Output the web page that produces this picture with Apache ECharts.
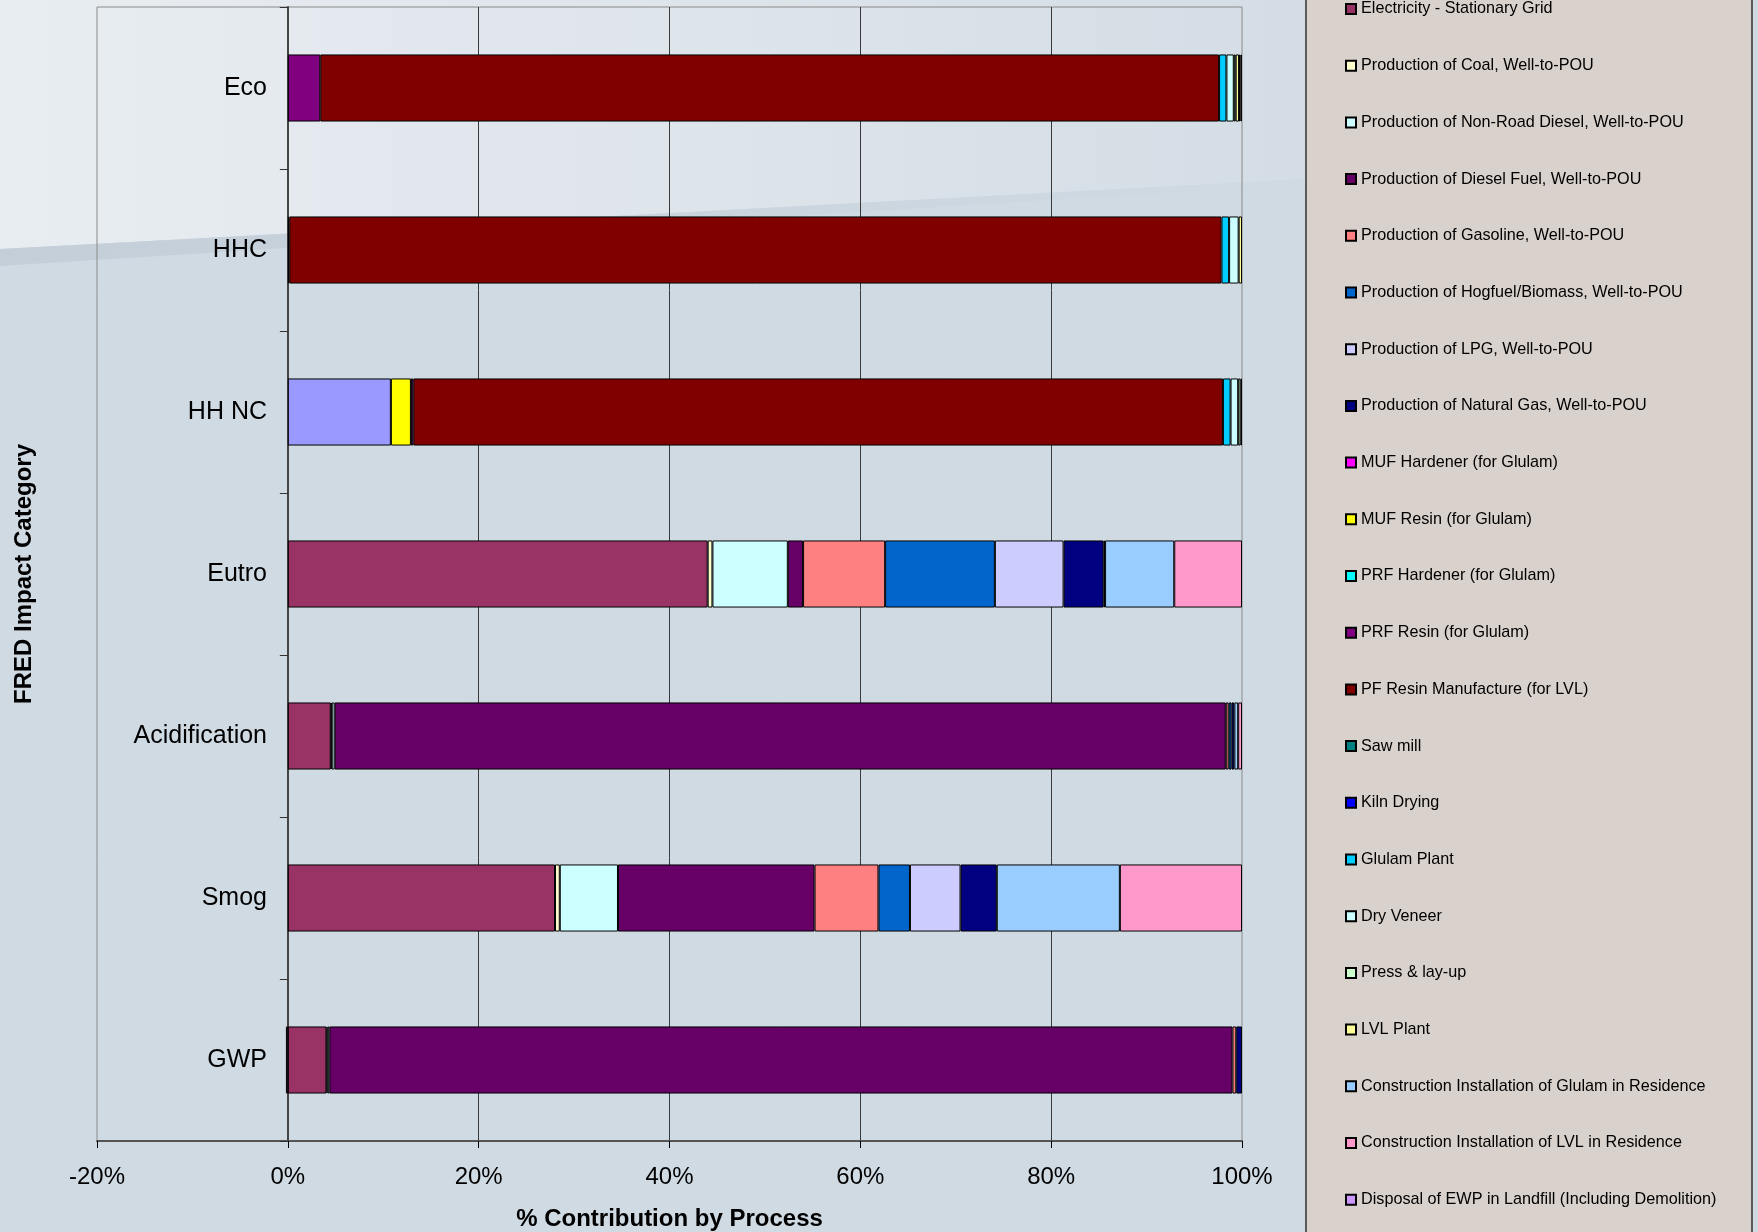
<!DOCTYPE html>
<html>
<head>
<meta charset="utf-8">
<script src="https://cdn.jsdelivr.net/npm/echarts@6/dist/echarts.min.js"></script>
<style>
  html, body { margin: 0; padding: 0; background: #D0DAE3; }
  #chart { width: 1758px; height: 1232px; }
</style>
</head>
<body>
<div id="chart"></div>
<script>
// ---------------- DATA ----------------
const categories = ['Eco', 'HHC', 'HH NC', 'Eutro', 'Acidification', 'Smog', 'GWP'];

const xTickLabels = ['-20%', '0%', '20%', '40%', '60%', '80%', '100%'];

// series order (stacking order, left to right); first series' legend entry is cut off in the source
const seriesNames = [
  'Series 1',
  'Electricity - Stationary Grid',
  'Production of Coal, Well-to-POU',
  'Production of Non-Road Diesel, Well-to-POU',
  'Production of Diesel Fuel, Well-to-POU',
  'Production of Gasoline, Well-to-POU',
  'Production of Hogfuel/Biomass, Well-to-POU',
  'Production of LPG, Well-to-POU',
  'Production of Natural Gas, Well-to-POU',
  'MUF Hardener (for Glulam)',
  'MUF Resin (for Glulam)',
  'PRF Hardener (for Glulam)',
  'PRF Resin (for Glulam)',
  'PF Resin Manufacture (for LVL)',
  'Saw mill',
  'Kiln Drying',
  'Glulam Plant',
  'Dry Veneer',
  'Press & lay-up',
  'LVL Plant',
  'Construction Installation of Glulam in Residence',
  'Construction Installation of LVL in Residence',
  'Disposal of EWP in Landfill (Including Demolition)'
];

const seriesColors = [
  '#9999FF', '#993366', '#FFFFCC', '#CCFFFF', '#660066', '#FF8080', '#0066CC', '#CCCCFF',
  '#000080', '#FF00FF', '#FFFF00', '#00FFFF', '#800080', '#800000', '#008080', '#0000FF',
  '#00CCFF', '#CCFFFF', '#CCFFCC', '#FFFF99', '#99CCFF', '#FF99CC', '#CC99FF'
];

// % contribution, per category: Eco, HHC, HH NC, Eutro, Acidification, Smog, GWP
const series1        = [0,    0,    10.8,  0,    0,    0,    0];
const electricity    = [0,    0,    0,     44.0, 4.5,  28.0, 4.05];
const coal           = [0,    0,    0,     0.5,  0.1,  0.5,  0.1];
const nonRoadDiesel  = [0,    0,    0,     7.9,  0.3,  6.1,  0.2];
const dieselFuel     = [0,    0,    0,     1.6,  93.4, 20.6, 94.65];
const gasoline       = [0,    0,    0,     8.6,  0.3,  6.7,  0.4];
const hogfuel        = [0,    0,    0,     11.5, 0.3,  3.3,  0];
const lpg            = [0,    0,    0,     7.2,  0,    5.3,  0];
const naturalGas     = [0,    0,    0,     4.2,  0.3,  3.8,  0.6];
const mufHardener    = [0,    0,    0,     0,    0,    0,    0];
const mufResin       = [0,    0,    2.1,   0,    0,    0,    0];
const prfHardener    = [0,    0,    0,     0,    0,    0,    0];
const prfResin       = [3.4,  0.15, 0.25,  0,    0,    0,    0];
const pfResin        = [94.2, 97.7, 84.85, 0,    0,    0,    0];
const sawMill        = [0,    0,    0,     0.15, 0,    0,    0];
const kilnDrying     = [0,    0,    0,     0,    0,    0,    0];
const glulamPlant    = [0.77, 0.8,  0.8,   0,    0,    0,    0];
const dryVeneer      = [0.77, 1.0,  0.8,   0,    0,    0,    0];
const pressLayup     = [0.2,  0,    0.25,  0,    0,    0,    0];
const lvlPlant       = [0.35, 0.35, 0.15,  0,    0,    0,    0];
const constrGlulam   = [0.15, 0,    0,     7.25, 0.4,  12.9, 0];
const constrLVL      = [0.15, 0,    0,     7.1,  0.4,  12.8, 0];
const disposal       = [0,    0,    0,     0,    0,    0,    -0.2];

const seriesValues = [
  series1, electricity, coal, nonRoadDiesel, dieselFuel, gasoline, hogfuel, lpg, naturalGas,
  mufHardener, mufResin, prfHardener, prfResin, pfResin, sawMill, kilnDrying, glulamPlant,
  dryVeneer, pressLayup, lvlPlant, constrGlulam, constrLVL, disposal
];

// ---------------- CHART ----------------
const FONT = "'Liberation Sans', Arial, sans-serif";
const chart = echarts.init(document.getElementById('chart'), null, { renderer: 'canvas' });

const series = seriesNames.map((name, i) => ({
  name: name,
  type: 'bar',
  stack: 'total',
  barCategoryGap: '58.6%',
  itemStyle: { color: seriesColors[i], borderColor: '#000', borderWidth: 1 },
  emphasis: { disabled: true },
  data: seriesValues[i].map(v => (v === 0 ? null : v))
}));

const option = {
  animation: false,
  backgroundColor: '#D0DAE3',
  textStyle: { fontFamily: FONT },
  graphic: {
    elements: [
      {
        type: 'polygon', z: -20, silent: true,
        shape: { points: [[0, 0], [1306, 0], [1306, 179], [0, 249]] },
        style: {
          fill: new echarts.graphic.LinearGradient(0, 0, 1, 0, [
            { offset: 0, color: '#E8EDF1' },
            { offset: 1, color: '#D4DDE5' }
          ])
        }
      },
      {
        type: 'polygon', z: -19, silent: true,
        shape: { points: [[0, 249], [1306, 179], [1306, 184], [0, 266]] },
        style: {
          fill: new echarts.graphic.LinearGradient(0, 0, 1, 0, [
            { offset: 0, color: '#C4CED8' },
            { offset: 1, color: '#D0DAE3' }
          ])
        }
      },
      {
        type: 'rect', z: -10, silent: true,
        shape: { x: 1306, y: -10, width: 446, height: 1260 },
        style: { fill: '#D9D1CB', stroke: '#5A5A5A', lineWidth: 2 }
      }
    ]
  },
  grid: {
    left: 97, top: 7, width: 1145, height: 1134,
    containLabel: false,
    outerBoundsMode: 'none',
    show: true, borderColor: '#8A8A8A', borderWidth: 1, backgroundColor: 'transparent'
  },
  legend: {
    orient: 'vertical',
    left: 1345, top: 0,
    padding: 0,
    itemGap: 38.7,
    itemWidth: 10, itemHeight: 10,
    icon: 'rect',
    selectedMode: false,
    data: seriesNames.slice(1),
    textStyle: { fontFamily: FONT, fontSize: 16.2, lineHeight: 18, color: '#000' }
  },
  xAxis: {
    type: 'value',
    min: -20, max: 100, interval: 20,
    name: '% Contribution by Process',
    nameLocation: 'middle',
    nameGap: 66,
    nameTextStyle: { fontFamily: FONT, fontSize: 24, fontWeight: 'bold', color: '#000' },
    axisLine: { show: true, lineStyle: { color: '#555', width: 2 } },
    axisTick: { show: true, length: 7, lineStyle: { color: '#000' } },
    axisLabel: {
      fontFamily: FONT, fontSize: 24, color: '#000', margin: 24,
      formatter: (v) => xTickLabels[Math.round((v + 20) / 20)]
    },
    splitLine: { show: true, showMinLine: false, showMaxLine: false, lineStyle: { color: '#3A3A3A', width: 1 } }
  },
  yAxis: {
    type: 'category',
    data: categories,
    inverse: true,
    name: 'FRED Impact Category',
    nameLocation: 'middle',
    nameRotate: 90,
    nameGap: 61,
    nameTextStyle: { fontFamily: FONT, fontSize: 24, fontWeight: 'bold', color: '#000' },
    axisLine: { show: true, onZero: true, lineStyle: { color: '#444', width: 2 } },
    axisTick: { show: true, length: 8, lineStyle: { color: '#333' } },
    axisLabel: { fontFamily: FONT, fontSize: 25, color: '#000', margin: -170 },
    splitLine: { show: false }
  },
  series: series
};

chart.setOption(option);
</script>
</body>
</html>
